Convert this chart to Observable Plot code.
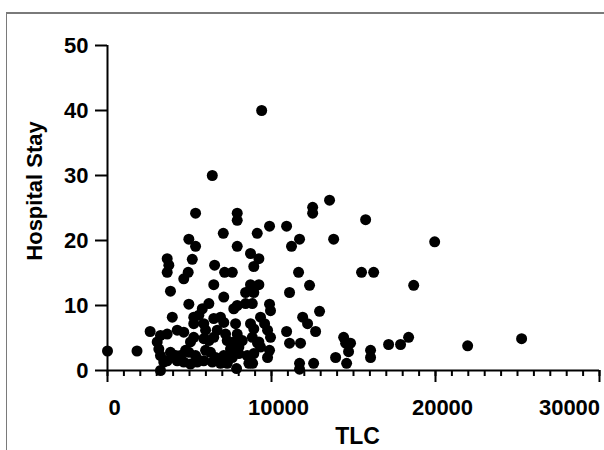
<!DOCTYPE html>
<html>
<head>
<meta charset="utf-8">
<script src="https://cdn.jsdelivr.net/npm/d3@7"></script>
<script src="https://cdn.jsdelivr.net/npm/@observablehq/plot@0.6"></script>
<style>
  html, body { margin: 0; padding: 0; background: #fff; overflow: hidden; }
  #wrap { position: relative; width: 604px; height: 450px; }
  #frame { position: absolute; left: 6px; top: 12px; width: 700px; height: 500px;
           border-top: 2px solid #7a7a7a; border-left: 1.5px solid #7a7a7a; box-sizing: border-box; pointer-events: none; }
</style>
</head>
<body>
<div id="wrap"><div id="frame"></div></div>
<script>
// TLC values (x) and Hospital Stay values (y)
const tlc = [
  0, 1800, 2600, 3230, 3030, 3130, 3230, 3430, 3230, 3640,
  3950, 3840, 3640, 3740, 3640, 4250, 4650, 3840, 4150, 4450,
  3640, 4250, 4650, 5060, 5470, 5870, 6390, 4760, 4960, 5370,
  5260, 5060, 5870, 6180, 5980, 6280, 5260, 5260, 6480, 4960,
  6180, 5780, 5570, 4650, 4920, 5170, 6530, 6480, 4960, 5370,
  5370, 6390, 7910, 7910, 7060, 7910, 7140, 7610, 7090, 8420,
  8920, 8720, 9230, 7700, 7910, 8420, 8830, 6890, 7090, 7810,
  8720, 8920, 9330, 6690, 7200, 6480, 7300, 7700, 8010, 7500,
  8220, 8830, 9230, 9330, 6590, 7090, 7610, 8010, 8520, 8620,
  8920, 7870, 6890, 7300, 9130, 8720, 9230, 8920, 9400, 13540,
  12510, 12510, 15740, 9880, 10920, 11710, 13790, 11220, 19950, 11650,
  15490, 16230, 12320, 18670, 11100, 9880, 9940, 12930, 11900, 12200,
  12690, 10920, 9580, 9760, 9940, 14400, 14520, 14820, 14700, 17140,
  17870, 18360, 11100, 11770, 16040, 16040, 13910, 14580, 12570, 11710,
  11710, 9880, 9760, 8850, 9150, 21960, 25250, 7910, 5870, 5980,
  5470
];
const stay = [
  3, 3, 6, 0, 4.4, 3.3, 2.3, 1.3, 5.4, 5.6,
  8.2, 12.2, 17.2, 16.2, 15.1, 6.2, 5.9, 2.8, 2.3, 2.3,
  1.5, 1.5, 1.3, 1, 1.3, 1.5, 1.3, 3.1, 2.8, 2.3,
  5.1, 4.4, 4.9, 4.6, 3.1, 2.8, 8.2, 7.2, 8, 10.2,
  10.3, 9.5, 8.5, 14.1, 15.1, 17.1, 16.2, 13.2, 20.2, 19.1,
  24.2, 30, 24.2, 23.1, 21.1, 19.1, 15.1, 15.1, 11.3, 12,
  12, 13.2, 13.2, 9.5, 10, 10.3, 10.3, 8.2, 7.4, 7.2,
  7.2, 6.4, 8.2, 6.2, 5.6, 5.1, 4.6, 4.4, 3.6, 3.3,
  4.6, 5.1, 4.4, 3.6, 2, 2.3, 2, 2.6, 2.3, 1.1,
  2.6, 0.3, 1.1, 1.1, 21.1, 18, 17.2, 16, 40, 26.2,
  25.1, 24.2, 23.2, 22.2, 22.2, 20.2, 20.2, 19.1, 19.8, 15.1,
  15.1, 15.1, 13.1, 13.1, 12, 10.2, 9.2, 9.1, 8.2, 7.2,
  6, 6, 7.2, 6.2, 5.1, 5.1, 4.2, 4.2, 2.9, 4,
  4, 5.1, 4.2, 4.2, 3.1, 2, 2, 1.1, 1.1, 1.1,
  0.2, 3.1, 2, 1.1, 4.2, 3.8, 4.9, 5.6, 7.2, 6.2,
  1.8
];
const xMajorTicks = [0, 10000, 20000, 30000];
const xLabelTicks = [0, 10000, 20000];
const xLastTick = [30000];
const xMinorTicks = d3.range(0, 30001, 1000);
const yTicks = [0, 10, 20, 30, 40, 50];
const xTitle = "TLC";
const yTitle = "Hospital Stay";

const data = tlc.map((t, i) => ({tlc: t, stay: stay[i]}));
const fmt = d3.format("d");

const chart = Plot.plot({
  width: 604,
  height: 450,
  marginLeft: 107,
  marginRight: 5,
  marginTop: 45,
  marginBottom: 80,
  style: {fontFamily: "'Liberation Sans', Arial, sans-serif", fontWeight: "bold", fontSize: "22px", color: "#000", background: "transparent"},
  x: {domain: [0, 30000]},
  y: {domain: [0, 50]},
  marks: [
    Plot.axisX({ticks: xMinorTicks, tickSize: 6, strokeWidth: 2, tickFormat: () => "", label: null}),
    Plot.axisX({ticks: xMajorTicks, tickSize: 12, strokeWidth: 2, tickFormat: () => "", label: null}),
    Plot.text(xLabelTicks, {x: d => d, frameAnchor: "bottom", textAnchor: "middle", dy: 44, dx: 7, text: fmt,
                            fontSize: 22, fontWeight: "bold"}),
    Plot.text(xLastTick, {x: d => d, frameAnchor: "bottom", textAnchor: "middle", dy: 44, dx: -30, text: fmt,
                          fontSize: 22, fontWeight: "bold"}),
    Plot.axisY({ticks: yTicks, tickSize: 12, strokeWidth: 2, tickPadding: 7, fontSize: 22, fontWeight: "bold", label: null}),
    Plot.text([xTitle], {frameAnchor: "bottom", textAnchor: "middle", dx: 4, dy: 73, fontSize: 23, fontWeight: "bold"}),
    Plot.text([yTitle], {frameAnchor: "left", textAnchor: "middle", rotate: -90, lineAnchor: "bottom", dx: -66, dy: -17, fontSize: 22, fontWeight: "bold"}),
    Plot.ruleY([0], {strokeWidth: 2}),
    Plot.ruleX([0], {strokeWidth: 2}),
    Plot.dot(data, {x: "tlc", y: "stay", r: 5.5, fill: "#000", stroke: "none"})
  ]
});
document.getElementById("wrap").prepend(chart);
</script>
</body>
</html>
